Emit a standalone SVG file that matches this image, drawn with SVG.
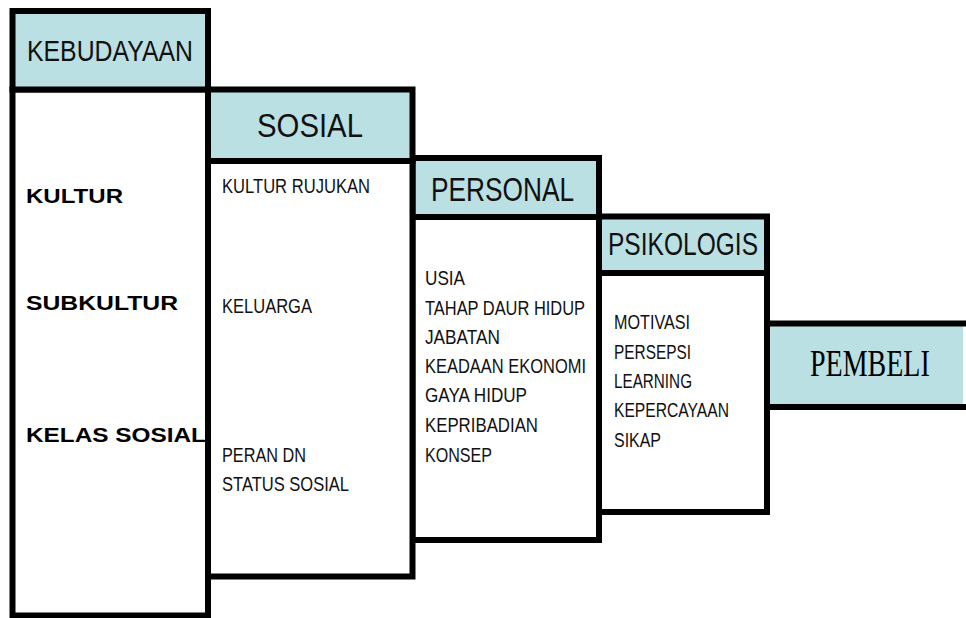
<svg xmlns="http://www.w3.org/2000/svg" width="966" height="618" viewBox="0 0 966 618">
<style>
.hd{fill:#BBE0E3;stroke:#000;stroke-width:6}
.bd{fill:#fff;stroke:#000;stroke-width:6}
.ln{fill:none;stroke:#000;stroke-width:6}
.h{font-family:"Liberation Sans Narrow","Liberation Sans",Arial,sans-serif;fill:#111}
.it{font-family:"Liberation Sans Narrow","Liberation Sans",Arial,sans-serif;font-size:21px;fill:#111}
.b{font-family:"Liberation Sans",Arial,sans-serif;font-weight:bold;font-size:20px;fill:#000}
.pm{font-family:"Liberation Serif","Times New Roman",serif;font-size:28px;fill:#000}
</style>
<rect width="966" height="618" fill="#fff"/>
<g id="pembeli">
<rect x="767" y="323.5" width="196" height="83.5" fill="#BBE0E3"/>
<path class="ln" d="M767 323.5 H966 M767 407 H966 M767 323.5 V407"/>
<text class="pm" transform="translate(810,376) scale(1,1.36)" x="0" y="0">PEMBELI</text>
</g>
<g id="psikologis">
<rect class="bd" x="599" y="273" width="168" height="239"/>
<rect class="hd" x="599" y="216.5" width="168" height="56.5"/>
<text class="h" x="608" y="255" font-size="31" textLength="150" lengthAdjust="spacingAndGlyphs">PSIKOLOGIS</text>
<text class="it" x="614" y="329" textLength="76" lengthAdjust="spacingAndGlyphs">MOTIVASI</text>
<text class="it" x="614" y="359" textLength="77" lengthAdjust="spacingAndGlyphs">PERSEPSI</text>
<text class="it" x="614" y="388" textLength="78" lengthAdjust="spacingAndGlyphs">LEARNING</text>
<text class="it" x="614" y="417" textLength="115" lengthAdjust="spacingAndGlyphs">KEPERCAYAAN</text>
<text class="it" x="614" y="447" textLength="47" lengthAdjust="spacingAndGlyphs">SIKAP</text>
</g>
<g id="personal">
<rect class="bd" x="412.5" y="217" width="186.5" height="323"/>
<rect class="hd" x="412.5" y="158" width="186.5" height="59"/>
<text class="h" x="431" y="201" font-size="33" textLength="143" lengthAdjust="spacingAndGlyphs">PERSONAL</text>
<text class="it" x="425" y="285" textLength="40" lengthAdjust="spacingAndGlyphs">USIA</text>
<text class="it" x="425" y="315" textLength="160" lengthAdjust="spacingAndGlyphs">TAHAP DAUR HIDUP</text>
<text class="it" x="425" y="344" textLength="75" lengthAdjust="spacingAndGlyphs">JABATAN</text>
<text class="it" x="425" y="373" textLength="161" lengthAdjust="spacingAndGlyphs">KEADAAN EKONOMI</text>
<text class="it" x="425" y="402" textLength="102" lengthAdjust="spacingAndGlyphs">GAYA HIDUP</text>
<text class="it" x="425" y="432" textLength="113" lengthAdjust="spacingAndGlyphs">KEPRIBADIAN</text>
<text class="it" x="425" y="462" textLength="67" lengthAdjust="spacingAndGlyphs">KONSEP</text>
</g>
<g id="sosial">
<rect class="bd" x="208" y="161" width="204.5" height="415.5"/>
<rect class="hd" x="208" y="89.5" width="204.5" height="71.5"/>
<text class="h" x="257" y="137" font-size="33" textLength="106" lengthAdjust="spacingAndGlyphs">SOSIAL</text>
<text class="it" x="222" y="193" textLength="148" lengthAdjust="spacingAndGlyphs">KULTUR RUJUKAN</text>
<text class="it" x="222" y="313" textLength="90" lengthAdjust="spacingAndGlyphs">KELUARGA</text>
<text class="it" x="222" y="462" textLength="84" lengthAdjust="spacingAndGlyphs">PERAN DN</text>
<text class="it" x="222" y="491" textLength="127" lengthAdjust="spacingAndGlyphs">STATUS SOSIAL</text>
</g>
<g id="kebudayaan">
<rect class="bd" x="12.5" y="89.5" width="195.5" height="526"/>
<rect class="hd" x="12.5" y="11" width="195.5" height="78.5"/>
<text class="h" x="27" y="61" font-size="29" textLength="166" lengthAdjust="spacingAndGlyphs">KEBUDAYAAN</text>
<text class="b" x="26" y="203" textLength="97" lengthAdjust="spacingAndGlyphs">KULTUR</text>
<text class="b" x="26" y="310" textLength="152" lengthAdjust="spacingAndGlyphs">SUBKULTUR</text>
<text class="b" x="26" y="442" textLength="180" lengthAdjust="spacingAndGlyphs">KELAS SOSIAL</text>
</g>
<g id="connectors"></g>
</svg>
